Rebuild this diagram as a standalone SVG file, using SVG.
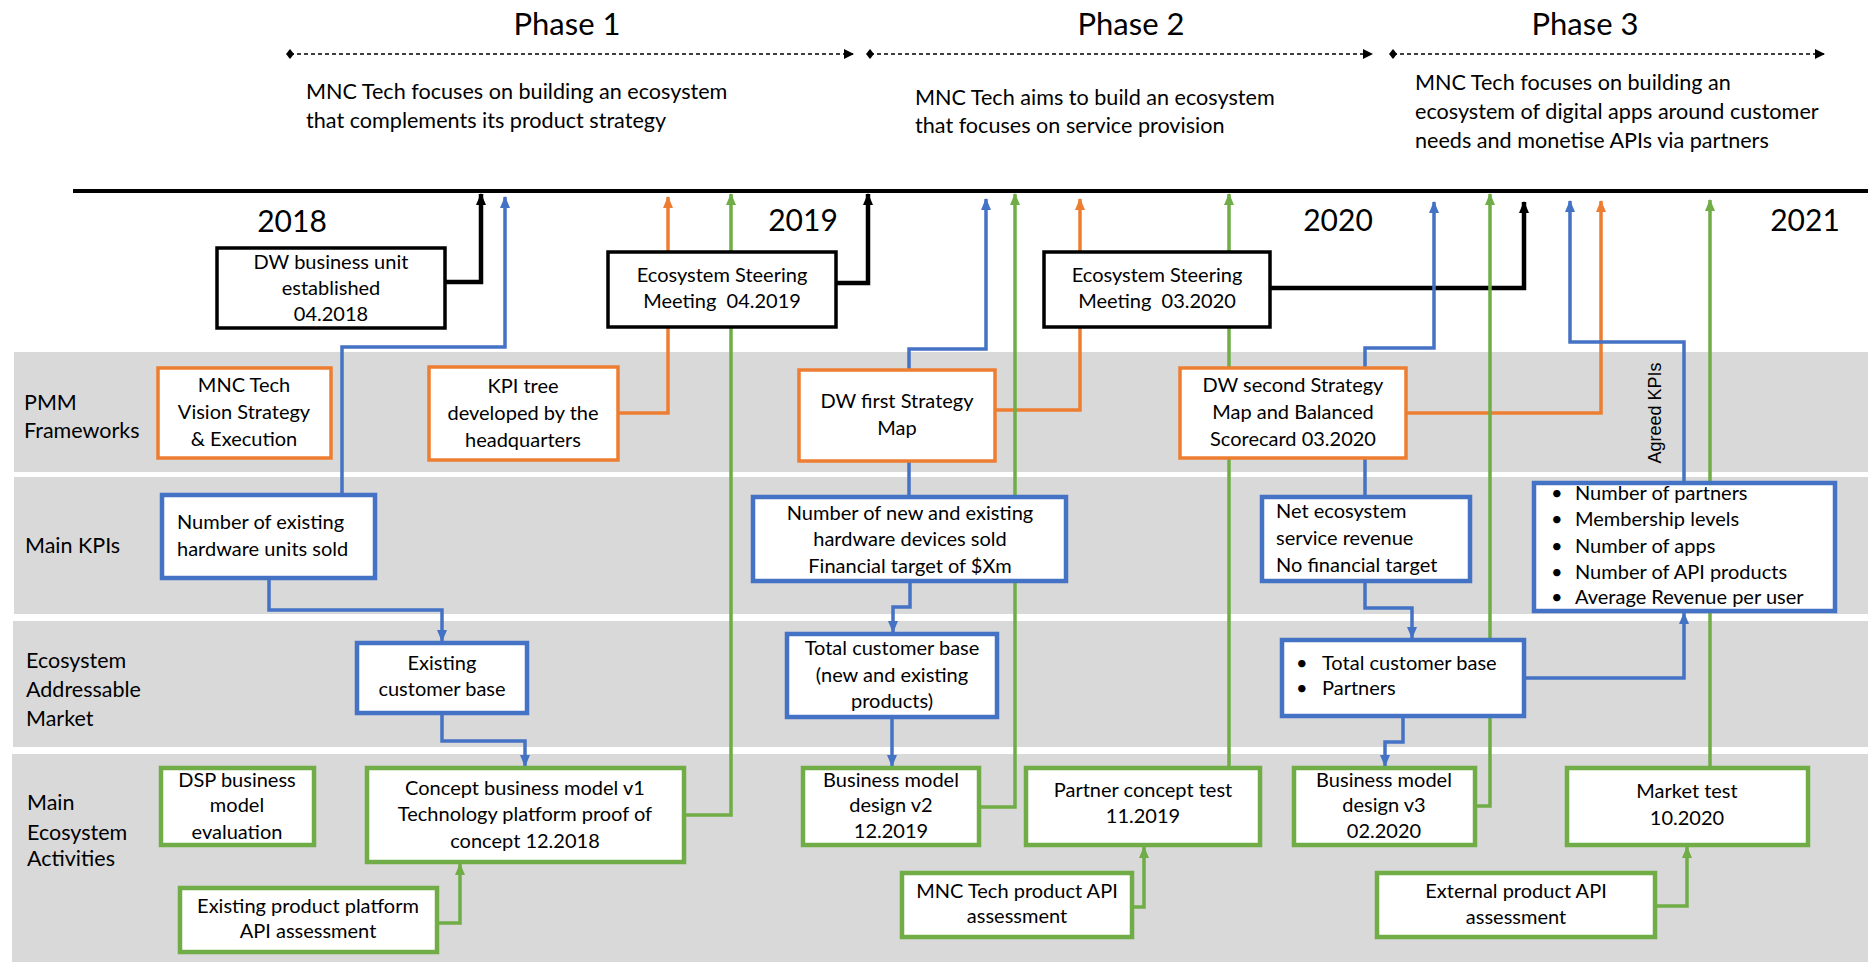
<svg xmlns="http://www.w3.org/2000/svg" width="1868" height="962" viewBox="0 0 1868 962">
<style>
text{font-family:Lato,"Liberation Sans",sans-serif;fill:#000}
.t{font-size:20px}
.d{font-size:21.6px}
.ll{font-size:21.5px}
.c{text-anchor:middle}
.ph{font-size:31px;text-anchor:middle}
.yr{font-size:30px;text-anchor:middle}
.lane{fill:#d9d9d9}
.bk{fill:#fff;stroke:#000;stroke-width:3.5}
.or{fill:#fff;stroke:#ed7d31;stroke-width:3.5}
.bl{fill:#fff;stroke:#4472c4;stroke-width:4.5}
.gr{fill:#fff;stroke:#70ad47;stroke-width:4.5}
.ck{fill:none;stroke:#000;stroke-width:4.5}
.co{fill:none;stroke:#ed7d31;stroke-width:3.5}
.cb{fill:none;stroke:#4472c4;stroke-width:3.5}
.cg{fill:none;stroke:#70ad47;stroke-width:3.5}
.dash{fill:none;stroke:#000;stroke-width:1.6;stroke-dasharray:4 3}
</style>
<defs>
<marker id="ak" viewBox="0 0 12 10" refX="11" refY="5" markerWidth="12" markerHeight="11" markerUnits="userSpaceOnUse" orient="auto"><path d="M0,0 L12,5 L0,10 z" fill="#000"/></marker>
<marker id="ao" viewBox="0 0 12 10" refX="11" refY="5" markerWidth="12" markerHeight="11" markerUnits="userSpaceOnUse" orient="auto"><path d="M0,0 L12,5 L0,10 z" fill="#ed7d31"/></marker>
<marker id="ab" viewBox="0 0 12 10" refX="11" refY="5" markerWidth="12" markerHeight="11" markerUnits="userSpaceOnUse" orient="auto"><path d="M0,0 L12,5 L0,10 z" fill="#4472c4"/></marker>
<marker id="ag" viewBox="0 0 12 10" refX="11" refY="5" markerWidth="12" markerHeight="11" markerUnits="userSpaceOnUse" orient="auto"><path d="M0,0 L12,5 L0,10 z" fill="#70ad47"/></marker>
<marker id="dstart" viewBox="0 0 8 10" refX="4" refY="5" markerWidth="8" markerHeight="10" markerUnits="userSpaceOnUse" orient="auto"><path d="M4,0 L8,5 L4,10 L0,5 z" fill="#000"/></marker>
<marker id="dend" viewBox="0 0 10 10" refX="9" refY="5" markerWidth="10" markerHeight="10" markerUnits="userSpaceOnUse" orient="auto"><path d="M0,0 L10,5 L0,10 z" fill="#000"/></marker>
</defs>
<rect width="1868" height="962" fill="#fff"/>

<g id="lanes">
<rect class="lane" x="14" y="352" width="1854" height="120"/>
<rect class="lane" x="14" y="477" width="1854" height="137"/>
<rect class="lane" x="13" y="621" width="1855" height="126"/>
<rect class="lane" x="12" y="754" width="1856" height="208"/>
<text class="ll" x="24" y="410">PMM</text>
<text class="ll" x="24" y="438">Frameworks</text>
<text class="ll" x="25" y="553">Main KPIs</text>
<text class="ll" x="26" y="668">Ecosystem</text>
<text class="ll" x="26" y="697">Addressable</text>
<text class="ll" x="26" y="726">Market</text>
<text class="ll" x="27" y="810">Main</text>
<text class="ll" x="27" y="840">Ecosystem</text>
<text class="ll" x="27" y="866">Activities</text>
</g>

<g id="phases">
<text class="ph" x="567" y="35">Phase 1</text>
<text class="ph" x="1131" y="35">Phase 2</text>
<text class="ph" x="1585" y="35">Phase 3</text>
<path class="dash" d="M290,54 H853" marker-start="url(#dstart)" marker-end="url(#dend)"/>
<path class="dash" d="M870,54 H1372" marker-start="url(#dstart)" marker-end="url(#dend)"/>
<path class="dash" d="M1393,54 H1824" marker-start="url(#dstart)" marker-end="url(#dend)"/>
<text class="d" x="306" y="99">MNC Tech focuses on building an ecosystem</text>
<text class="d" x="306" y="128">that complements its product strategy</text>
<text class="d" x="915" y="105">MNC Tech aims to build an ecosystem</text>
<text class="d" x="915" y="133">that focuses on service provision</text>
<text class="d" x="1415" y="90">MNC Tech focuses on building an</text>
<text class="d" x="1415" y="119">ecosystem of digital apps around customer</text>
<text class="d" x="1415" y="148">needs and monetise APIs via partners</text>
</g>

<g id="timeline">
<line x1="73" y1="191" x2="1868" y2="191" stroke="#000" stroke-width="4"/>
<text class="yr" x="292" y="232">2018</text>
<text class="yr" x="803" y="231">2019</text>
<text class="yr" x="1338" y="231">2020</text>
<text class="yr" x="1805" y="231">2021</text>
</g>

<g id="connectors">
<path class="ck" d="M445,282 H481 V194" marker-end="url(#ak)"/>
<path class="ck" d="M836,283 H868 V194" marker-end="url(#ak)"/>
<path class="ck" d="M1270,288 H1524 V202" marker-end="url(#ak)"/>
<path class="co" d="M618,413 H668 V197" marker-end="url(#ao)"/>
<path class="co" d="M995,410 H1080 V199" marker-end="url(#ao)"/>
<path class="co" d="M1406,413 H1601 V201" marker-end="url(#ao)"/>
<path class="cb" d="M342,495 V347 H505 V197" marker-end="url(#ab)"/>
<path class="cb" d="M269,578 V610 H442 V641" marker-end="url(#ab)"/>
<path class="cb" d="M442,713 V741 H525 V766" marker-end="url(#ab)"/>
<path class="cb" d="M909,497 V349 H986 V199" marker-end="url(#ab)"/>
<path class="cb" d="M910,581 V607 H893 V632" marker-end="url(#ab)"/>
<path class="cb" d="M892,717 V766" marker-end="url(#ab)"/>
<path class="cb" d="M1365,497 V348 H1434 V202" marker-end="url(#ab)"/>
<path class="cb" d="M1365,581 V608 H1412 V638" marker-end="url(#ab)"/>
<path class="cb" d="M1524,678 H1684 V613" marker-end="url(#ab)"/>
<path class="cb" d="M1403,716 V742 H1385 V766" marker-end="url(#ab)"/>
<path class="cb" d="M1684,483 V342 H1570 V201" marker-end="url(#ab)"/>
<path class="cg" d="M684,815 H731 V194" marker-end="url(#ag)"/>
<path class="cg" d="M437,923 H460 V864" marker-end="url(#ag)"/>
<path class="cg" d="M979,807 H1015 V194" marker-end="url(#ag)"/>
<path class="cg" d="M1229,768 V194" marker-end="url(#ag)"/>
<path class="cg" d="M1132,907 H1144 V847" marker-end="url(#ag)"/>
<path class="cg" d="M1475,806 H1490 V194" marker-end="url(#ag)"/>
<path class="cg" d="M1710,768 V200" marker-end="url(#ag)"/>
<path class="cg" d="M1655,906 H1687 V847" marker-end="url(#ag)"/>
<text x="1661" y="413" transform="rotate(-90 1661 413)" text-anchor="middle" style="font-family:'Liberation Sans',Arial,sans-serif;font-size:18px">Agreed KPIs</text>
</g>

<g id="n1"><rect class="bk" x="217" y="248" width="228" height="80"/>
<text class="t c" x="331" y="269">DW business unit</text><text class="t c" x="331" y="295">established</text><text class="t c" x="331" y="321">04.2018</text></g>
<g id="n2"><rect class="bk" x="608" y="252" width="228" height="75"/>
<text class="t c" x="722" y="282">Ecosystem Steering</text><text class="t c" x="722" y="308">Meeting&#160; 04.2019</text></g>
<g id="n3"><rect class="bk" x="1044" y="252" width="226" height="75"/>
<text class="t c" x="1157" y="282">Ecosystem Steering</text><text class="t c" x="1157" y="308">Meeting&#160; 03.2020</text></g>

<g id="n4"><rect class="or" x="158" y="368" width="173" height="90"/>
<text class="t c" x="244" y="392">MNC Tech</text><text class="t c" x="244" y="419">Vision Strategy</text><text class="t c" x="244" y="446">&amp; Execution</text></g>
<g id="n5"><rect class="or" x="429" y="367" width="189" height="93"/>
<text class="t c" x="523" y="393">KPI tree</text><text class="t c" x="523" y="420">developed by the</text><text class="t c" x="523" y="447">headquarters</text></g>
<g id="n6"><rect class="or" x="799" y="370" width="196" height="91"/>
<text class="t c" x="897" y="408">DW first Strategy</text><text class="t c" x="897" y="435">Map</text></g>
<g id="n7"><rect class="or" x="1180" y="368" width="226" height="90"/>
<text class="t c" x="1293" y="392">DW second Strategy</text><text class="t c" x="1293" y="419">Map and Balanced</text><text class="t c" x="1293" y="446">Scorecard 03.2020</text></g>

<g id="n8"><rect class="bl" x="162" y="495" width="213" height="83"/>
<text class="t" x="177" y="529">Number of existing</text><text class="t" x="177" y="556">hardware units sold</text></g>
<g id="n9"><rect class="bl" x="357" y="643" width="170" height="70"/>
<text class="t c" x="442" y="670">Existing</text><text class="t c" x="442" y="696">customer base</text></g>
<g id="n13"><rect class="bl" x="753" y="497" width="313" height="84"/>
<text class="t c" x="910" y="520">Number of new and existing</text><text class="t c" x="910" y="546">hardware devices sold</text><text class="t c" x="910" y="573">Financial target of $Xm</text></g>
<g id="n14"><rect class="bl" x="787" y="634" width="210" height="83"/>
<text class="t c" x="892" y="655">Total customer base</text><text class="t c" x="892" y="682">(new and existing</text><text class="t c" x="892" y="708">products)</text></g>
<g id="n18"><rect class="bl" x="1262" y="497" width="208" height="84"/>
<text class="t" x="1276" y="518">Net ecosystem</text><text class="t" x="1276" y="545">service revenue</text><text class="t" x="1276" y="572">No financial target</text></g>
<g id="n19"><rect class="bl" x="1282" y="640" width="242" height="76"/>
<text class="t" x="1296" y="670">•</text><text class="t" x="1322" y="670">Total customer base</text>
<text class="t" x="1296" y="695">•</text><text class="t" x="1322" y="695">Partners</text></g>
<g id="n20"><rect class="bl" x="1534" y="483" width="301" height="128"/>
<text class="t" x="1551" y="500">•</text><text class="t" x="1575" y="500">Number of partners</text>
<text class="t" x="1551" y="526">•</text><text class="t" x="1575" y="526">Membership levels</text>
<text class="t" x="1551" y="553">•</text><text class="t" x="1575" y="553">Number of apps</text>
<text class="t" x="1551" y="579">•</text><text class="t" x="1575" y="579">Number of API products</text>
<text class="t" x="1551" y="604">•</text><text class="t" x="1575" y="604">Average Revenue per user</text></g>

<g id="n11"><rect class="gr" x="161" y="768" width="153" height="77"/>
<text class="t c" x="237" y="787">DSP business</text><text class="t c" x="237" y="812">model</text><text class="t c" x="237" y="839">evaluation</text></g>
<g id="n10"><rect class="gr" x="367" y="768" width="317" height="94"/>
<text class="t c" x="525" y="795">Concept business model v1</text><text class="t c" x="525" y="821">Technology platform proof of</text><text class="t c" x="525" y="848">concept 12.2018</text></g>
<g id="n12"><rect class="gr" x="180" y="888" width="257" height="64"/>
<text class="t c" x="308" y="913">Existing product platform</text><text class="t c" x="308" y="938">API assessment</text></g>
<g id="n15"><rect class="gr" x="803" y="768" width="176" height="77"/>
<text class="t c" x="891" y="787">Business model</text><text class="t c" x="891" y="812">design v2</text><text class="t c" x="891" y="838">12.2019</text></g>
<g id="n16"><rect class="gr" x="1026" y="768" width="234" height="77"/>
<text class="t c" x="1143" y="797">Partner concept test</text><text class="t c" x="1143" y="823">11.2019</text></g>
<g id="n17"><rect class="gr" x="902" y="873" width="230" height="64"/>
<text class="t c" x="1017" y="898">MNC Tech product API</text><text class="t c" x="1017" y="923">assessment</text></g>
<g id="n21"><rect class="gr" x="1294" y="768" width="181" height="77"/>
<text class="t c" x="1384" y="787">Business model</text><text class="t c" x="1384" y="812">design v3</text><text class="t c" x="1384" y="838">02.2020</text></g>
<g id="n22"><rect class="gr" x="1567" y="768" width="241" height="77"/>
<text class="t c" x="1687" y="798">Market test</text><text class="t c" x="1687" y="825">10.2020</text></g>
<g id="n23"><rect class="gr" x="1377" y="873" width="278" height="64"/>
<text class="t c" x="1516" y="898">External product API</text><text class="t c" x="1516" y="924">assessment</text></g>
</svg>
